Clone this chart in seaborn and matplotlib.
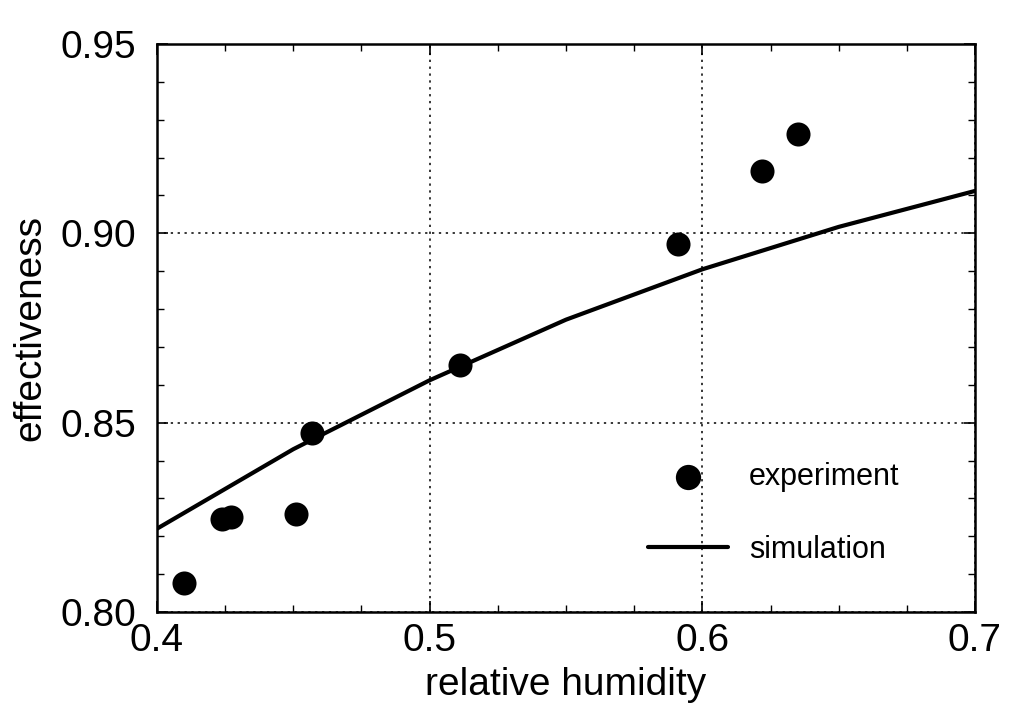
import matplotlib
matplotlib.use("Agg")
import matplotlib.pyplot as plt
import seaborn as sns
import pandas as pd
from matplotlib.ticker import MultipleLocator, FormatStrFormatter

# Data
exp_rh = [0.410, 0.424, 0.427, 0.451, 0.457, 0.511, 0.591, 0.622, 0.635]
exp_eff = [0.8076, 0.8245, 0.8252, 0.8258, 0.8473, 0.8651, 0.8971, 0.9165, 0.9262]
sim_rh = [0.40, 0.45, 0.50, 0.55, 0.60, 0.65, 0.70]
sim_eff = [0.8220, 0.8430, 0.8612, 0.8772, 0.8905, 0.9017, 0.9112]
x_ticks = [0.4, 0.5, 0.6, 0.7]
y_ticks = [0.80, 0.85, 0.90, 0.95]

sns.set_style("ticks")
plt.rcParams['font.family'] = ['Liberation Sans', 'DejaVu Sans']
plt.rcParams['text.color'] = 'black'
plt.rcParams['axes.labelcolor'] = 'black'
plt.rcParams['xtick.color'] = 'black'
plt.rcParams['ytick.color'] = 'black'

exp_df = pd.DataFrame({"rh": exp_rh, "eff": exp_eff})
sim_df = pd.DataFrame({"rh": sim_rh, "eff": sim_eff})

fig = plt.figure(figsize=(10.09, 7.03), dpi=100)
ax = fig.add_axes([157/1009, 1-612/703, (975-157)/1009, (612-44)/703])

sns.lineplot(data=sim_df, x="rh", y="eff", ax=ax, color="black", lw=3.0,
             label="simulation", zorder=3)
sns.scatterplot(data=exp_df, x="rh", y="eff", ax=ax, color="black", s=300,
                edgecolor="black", linewidth=0, label="experiment", zorder=4)

ax.set_xlim(0.4, 0.7)
ax.set_ylim(0.80, 0.95)
ax.set_xticks(x_ticks)
ax.set_yticks(y_ticks)
ax.xaxis.set_major_formatter(FormatStrFormatter('%.1f'))
ax.yaxis.set_major_formatter(FormatStrFormatter('%.2f'))
ax.xaxis.set_minor_locator(MultipleLocator(0.025))
ax.yaxis.set_minor_locator(MultipleLocator(0.01))

ax.tick_params(which='both', direction='in', top=True, right=True, color='black',
               labelcolor='black')
ax.tick_params(which='major', length=8, width=1.2, labelsize=28)
ax.tick_params(which='minor', length=5, width=1.0)
ax.tick_params(axis='y', which='major', pad=15)
ax.tick_params(axis='x', which='major', pad=8)

for sp in ax.spines.values():
    sp.set_linewidth(1.8)
    sp.set_color('black')

ax.grid(True, which='major', linestyle=(0, (1.5, 3.0)), color='black', linewidth=1.1)

ax.set_xlabel("relative humidity", fontsize=28, labelpad=6, color='black')
ax.set_ylabel("effectiveness", fontsize=28, labelpad=9, color='black')

handles, labels = ax.get_legend_handles_labels()
order = [labels.index("experiment"), labels.index("simulation")]
leg = ax.legend([handles[i] for i in order], [labels[i] for i in order],
                loc='center', bbox_to_anchor=(0.754, 0.174), frameon=False,
                fontsize=22, handlelength=2.6, handletextpad=0.7,
                labelspacing=1.4, markerscale=1.05)
for t in leg.get_texts():
    t.set_color('black')

fig.savefig("out.png", dpi=100)
